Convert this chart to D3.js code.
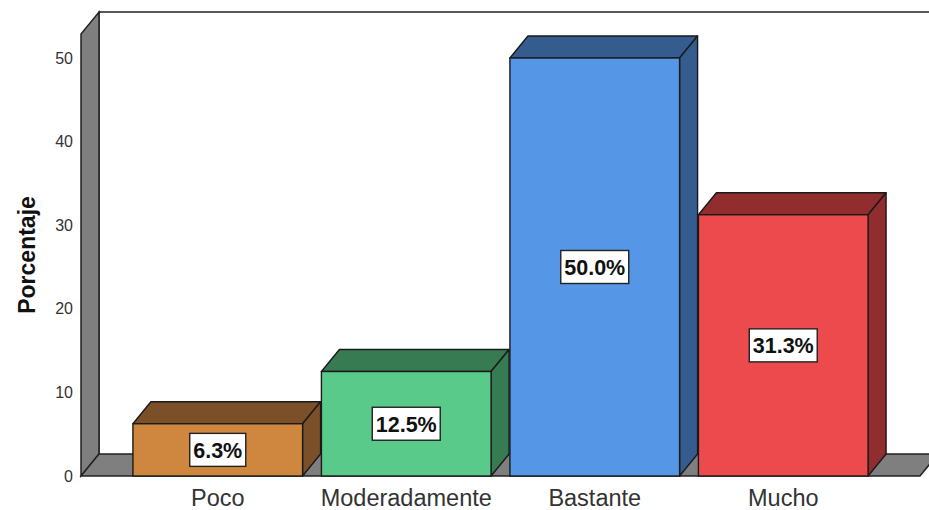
<!DOCTYPE html>
<html>
<head>
<meta charset="utf-8">
<script src="https://cdn.jsdelivr.net/npm/d3@7"></script>
<style>
  body { margin: 0; background: #fff; }
  svg { display: block; font-family: "Liberation Sans", Arial, sans-serif; }
</style>
</head>
<body>
<script>
// data
const categories = ["Poco", "Moderadamente", "Bastante", "Mucho"];
const percentages = [6.25, 12.5, 50.0, 31.25];
const yTicks = [0, 10, 20, 30, 40, 50];
const frontColors = ["#cf8740", "#5aca8a", "#5596e6", "#ec4a4d"];
const topColors = ["#7b5028", "#377b52", "#345c8f", "#912d2f"];

const width = 929, height = 510;
const depthX = 18, depthY = 22; // 3d offset

const svg = d3.select("body").append("svg")
  .attr("width", width)
  .attr("height", height);

const x = d3.scaleBand()
  .domain(categories)
  .range([123.5, 877.5])
  .paddingInner(0.1)
  .paddingOuter(0.05);

const y = d3.scaleLinear()
  .domain([0, 52.87])
  .range([476, 34]);

const left = 81, right = 920;
const line = d3.line();

// back wall
svg.append("path")
  .attr("d", line([[left + depthX, y(0) - depthY], [left + depthX, y.range()[1] - depthY], [right + depthX + 30, y.range()[1] - depthY]]))
  .attr("fill", "none").attr("stroke", "#222").attr("stroke-width", 1.5);

// left wall
svg.append("path")
  .attr("d", line([[left, y(0)], [left, y.range()[1]], [left + depthX, y.range()[1] - depthY], [left + depthX, y(0) - depthY]]) + "Z")
  .attr("fill", "#7f7f7f").attr("stroke", "#222").attr("stroke-width", 1.5);

// floor
svg.append("path")
  .attr("d", line([[left, y(0)], [right, y(0)], [right + depthX, y(0) - depthY], [left + depthX, y(0) - depthY]]) + "Z")
  .attr("fill", "#7f7f7f").attr("stroke", "#222").attr("stroke-width", 1.5);

// bars
const bars = svg.selectAll(".bar")
  .data(categories)
  .enter().append("g")
  .attr("class", "bar");

bars.each(function (c, i) {
  const g = d3.select(this);
  const x0 = x(c), x1 = x(c) + x.bandwidth();
  const yt = y(percentages[i]), yb = y(0);
  // top face
  g.append("path")
    .attr("d", line([[x0, yt], [x0 + depthX, yt - depthY], [x1 + depthX, yt - depthY], [x1, yt]]) + "Z")
    .attr("fill", topColors[i]).attr("stroke", "#1a1a1a").attr("stroke-width", 1.4)
    .attr("stroke-linejoin", "round");
  // side face
  g.append("path")
    .attr("d", line([[x1, yt], [x1 + depthX, yt - depthY], [x1 + depthX, yb - depthY], [x1, yb]]) + "Z")
    .attr("fill", topColors[i]).attr("stroke", "#1a1a1a").attr("stroke-width", 1.4)
    .attr("stroke-linejoin", "round");
  // front face
  g.append("rect")
    .attr("x", x0).attr("y", yt)
    .attr("width", x.bandwidth()).attr("height", yb - yt)
    .attr("fill", frontColors[i]).attr("stroke", "#1a1a1a").attr("stroke-width", 1.4);
});

// value labels
const fmt = d3.format(".1f");
bars.each(function (c, i) {
  const g = d3.select(this);
  const cx = x(c) + x.bandwidth() / 2;
  const cy = y(percentages[i] / 2);
  const box = g.append("rect");
  const t = g.append("text")
    .attr("x", cx).attr("y", cy)
    .attr("dy", "0.37em")
    .attr("text-anchor", "middle")
    .attr("font-size", 21.5).attr("font-weight", "bold")
    .attr("fill", "#111")
    .text(fmt(percentages[i]) + "%");
  const w = t.node().getComputedTextLength() + 7;
  box.attr("x", cx - w / 2).attr("y", cy - 16.5)
    .attr("width", w).attr("height", 33)
    .attr("fill", "#fff").attr("stroke", "#222").attr("stroke-width", 1.4);
});

// y axis
const yAxis = svg.append("g")
  .attr("transform", `translate(${left},0)`)
  .call(d3.axisLeft(y).tickValues(yTicks).tickSize(0).tickPadding(8));
yAxis.select(".domain").remove();
yAxis.selectAll("text").attr("font-size", 16).attr("fill", "#333")
  .attr("font-family", "Liberation Sans, Arial, sans-serif");

// x axis
const xAxis = svg.append("g")
  .attr("transform", `translate(0,${y(0)})`)
  .call(d3.axisBottom(x).tickSize(0).tickPadding(13));
xAxis.select(".domain").remove();
xAxis.selectAll("text").attr("font-size", 23.5).attr("fill", "#333")
  .attr("font-family", "Liberation Sans, Arial, sans-serif");

// y title
svg.append("text")
  .attr("transform", "translate(35,255) rotate(-90)")
  .attr("text-anchor", "middle")
  .attr("font-size", 23).attr("font-weight", "bold")
  .attr("fill", "#111")
  .text("Porcentaje");
</script>
</body>
</html>
